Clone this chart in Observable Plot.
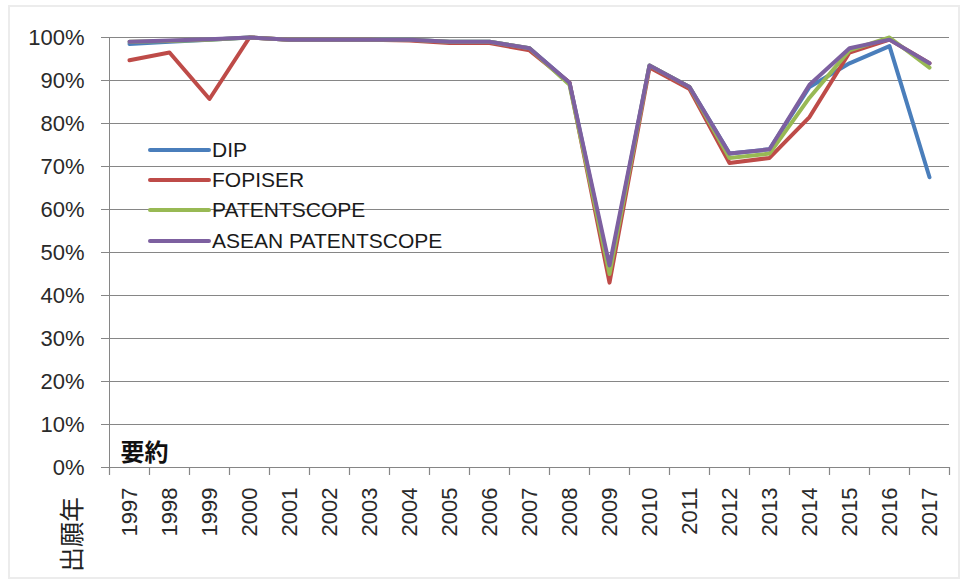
<!DOCTYPE html>
<html><head><meta charset="utf-8">
<script src="https://cdn.jsdelivr.net/npm/d3@7"></script>
<script src="https://cdn.jsdelivr.net/npm/@observablehq/plot@0.6"></script>
<style>
html,body{margin:0;padding:0;background:#fff;}
#chart{position:relative;width:968px;height:580px;overflow:hidden;}
#frame{position:absolute;left:8px;top:5px;width:948px;height:570px;border:2px solid #ececec;pointer-events:none;}
#legend{position:absolute;left:148px;top:135px;font-family:"Liberation Sans",Arial,sans-serif;font-size:21px;color:#1a1a1a;}
.item{display:flex;align-items:center;height:30.2px;white-space:nowrap;}
.swatch{width:63px;height:4px;margin-right:1px;border-radius:2px;}
</style></head><body>
<div id="chart"><div id="frame"></div><div id="legend"></div></div>
<script>
const years = [1997,1998,1999,2000,2001,2002,2003,2004,2005,2006,2007,2008,2009,2010,2011,2012,2013,2014,2015,2016,2017];
const seriesNames = ["DIP","FOPISER","PATENTSCOPE","ASEAN PATENTSCOPE"];
const seriesColors = ["#4A7EBB","#BE4B48","#98B954","#7D60A0"];
const dip         = [98.5, 99.0, 99.5, 100, 99.5, 99.5, 99.5, 99.5, 99.0, 99.0, 97.5, 89.5, 46.0, 93.5, 88.5, 73.0, 74.0, 88.5, 94.0, 98.0, 67.5];
const fopiser     = [94.7, 96.5, 85.7, 100, 99.5, 99.5, 99.5, 99.3, 98.7, 98.7, 97.0, 89.5, 43.0, 93.0, 88.0, 70.8, 72.0, 81.5, 96.5, 99.5, 94.0];
const patentscope = [99.0, 99.2, 99.5, 100, 99.5, 99.5, 99.5, 99.5, 99.0, 99.0, 97.5, 89.0, 45.0, 93.5, 88.5, 72.0, 73.0, 86.0, 97.0, 100, 93.0];
const asean       = [99.0, 99.3, 99.6, 100, 99.5, 99.5, 99.5, 99.5, 99.0, 99.0, 97.5, 89.5, 47.0, 93.5, 88.5, 73.0, 74.0, 89.0, 97.5, 99.5, 94.0];
const yTicks = [0,0.1,0.2,0.3,0.4,0.5,0.6,0.7,0.8,0.9,1.0];
const cornerLabel = "要約";
const xTitle = "出願年";

const data = [];
[dip, fopiser, patentscope, asean].forEach((vals, i) =>
  vals.forEach((v, j) => data.push({year: years[j], value: v / 100, series: seriesNames[i]})));
const boundaries = [years[0] - 0.5, ...years.map(y => y + 0.5)];
const grey = "#868686";
const sans = '"Liberation Sans",Arial,sans-serif';

const plot = Plot.plot({
  width: 968, height: 580,
  marginLeft: 109, marginRight: 19, marginTop: 37, marginBottom: 113,
  style: {background: "transparent", color: "#222"},
  x: {type: "linear", domain: [boundaries[0], boundaries[boundaries.length - 1]]},
  y: {domain: [0, 1]},
  color: {domain: seriesNames, range: seriesColors},
  marks: [
    Plot.gridY(yTicks, {stroke: grey, strokeOpacity: 1, strokeWidth: 1}),
    Plot.axisY(yTicks, {tickSize: 8, tickPadding: 17, stroke: grey, fill: "#2a2a2a",
      tickFormat: d => Math.round(d * 100) + "%", fontSize: 22,
      fontFamily: sans, label: null}),
    Plot.axisX(years, {tickSize: 0, tickPadding: 20, tickRotate: -90, tickFormat: d => String(d),
      fontSize: 22, fontFamily: sans, fill: "#2a2a2a", label: null}),
    Plot.axisX(boundaries, {tickSize: 8, tickFormat: () => "", stroke: grey, strokeWidth: 1.2, label: null}),
    Plot.ruleX([boundaries[0]], {stroke: grey}),
    Plot.ruleY([0], {stroke: grey}),
    Plot.line(data, {x: "year", y: "value", z: "series", stroke: "series", strokeWidth: 4,
      strokeLinejoin: "round", strokeLinecap: "round"}),
    Plot.text([cornerLabel], {frameAnchor: "bottom-left", dx: 11, dy: -7, textAnchor: "start", lineAnchor: "bottom",
      fontSize: 24, fontWeight: "bold", fontFamily: '"Noto Sans CJK JP",sans-serif', fill: "#111"}),
    Plot.text([xTitle], {frameAnchor: "bottom-left", dx: -29, dy: 67, rotate: -90, textAnchor: "middle",
      fontSize: 25, fontFamily: '"Noto Sans CJK JP",sans-serif', fill: "#222"})
  ]
});
const chart = document.getElementById("chart");
chart.insertBefore(plot, chart.firstChild);

const legend = document.getElementById("legend");
seriesNames.forEach((name, i) => {
  const item = document.createElement("div");
  item.className = "item";
  const sw = document.createElement("div");
  sw.className = "swatch";
  sw.style.background = seriesColors[i];
  const t = document.createElement("span");
  t.textContent = name;
  item.appendChild(sw); item.appendChild(t);
  legend.appendChild(item);
});
</script>
</body></html>
